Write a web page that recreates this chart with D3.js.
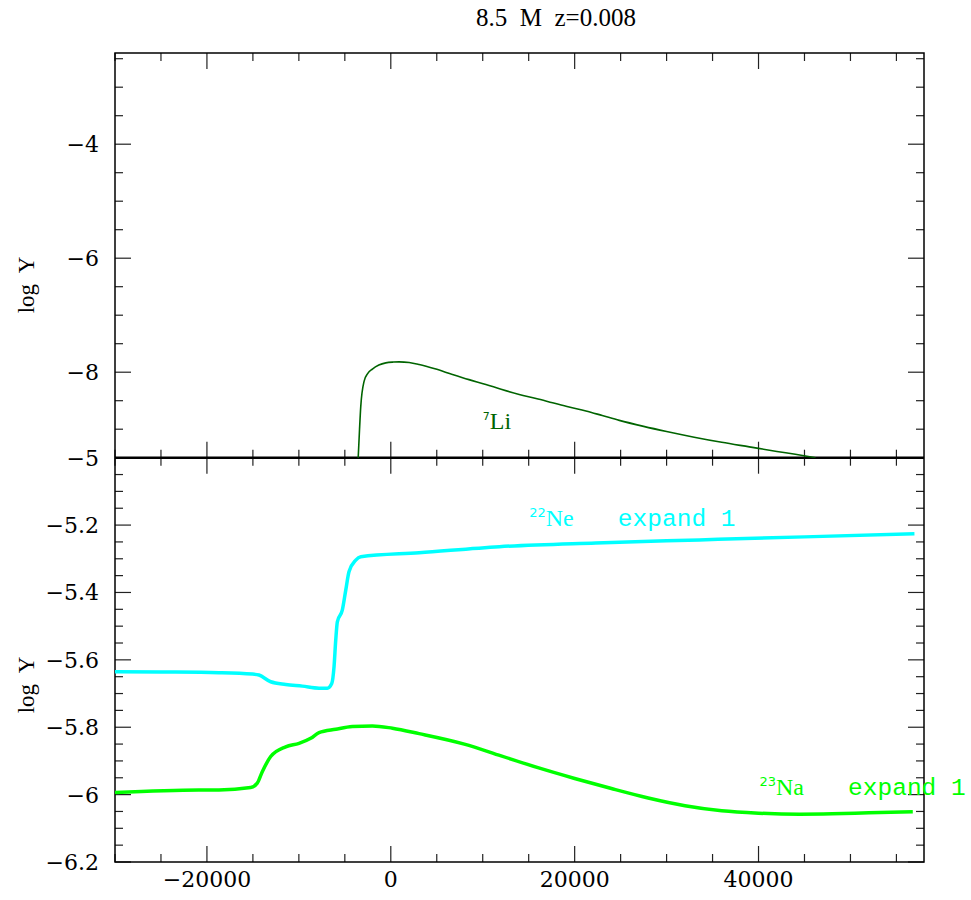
<!DOCTYPE html>
<html>
<head>
<meta charset="utf-8">
<script src="https://cdn.jsdelivr.net/npm/d3@7"></script>
<style>
  body { margin: 0; background: #fff; }
  text { white-space: pre; }
</style>
</head>
<body>
<div id="chart"></div>
<script>
// values
const liX = [-3560, -3400, -3266, -2907, -2500, -2003, -1300, -544, 300, 904, 2000, 3081, 4800, 6706, 8500, 10343,
  12000, 13969, 15800, 17594, 19400, 21230, 23000, 24855, 27500, 30000, 33000, 36000, 39000, 42000, 44000, 46200];
const liY = [-9.55, -9.0, -8.6, -8.16, -8.02, -7.945, -7.875, -7.836, -7.822, -7.818, -7.83, -7.865, -7.94, -8.04, -8.13, -8.215,
  -8.30, -8.39, -8.46, -8.535, -8.61, -8.68, -8.76, -8.845, -8.95, -9.04, -9.14, -9.23, -9.31, -9.39, -9.44, -9.5];

const neX = [-30000, -25000, -18690, -15068, -14338, -13064, -11431, -9624, -7806, -6903, -6423, -6173, -5988, -5814,
  -5269, -4899, -4540, -3810, -3266, 3081, 11800, 22300, 33570, 45000, 56960];
const neY = [-5.635, -5.636, -5.638, -5.642, -5.645, -5.665, -5.673, -5.678, -5.684, -5.684, -5.670, -5.620, -5.541, -5.487,
  -5.452, -5.393, -5.338, -5.304, -5.294, -5.282, -5.264, -5.253, -5.244, -5.235, -5.226];

const naX = [-30000, -20870, -18690, -15242, -14524, -13980, -13064, -11431, -9983, -8710, -7806, -5988, -4180, -2003,
  174, 3081, 8000, 12000, 16000, 20000, 24000, 28000, 32000, 36000, 40000, 44460, 48000, 52000, 56780];
const naY = [-5.994, -5.986, -5.986, -5.979, -5.966, -5.932, -5.887, -5.858, -5.848, -5.833, -5.816, -5.806, -5.798, -5.796,
  -5.803, -5.819, -5.85, -5.885, -5.92, -5.952, -5.982, -6.01, -6.033, -6.048, -6.055, -6.058, -6.057, -6.054, -6.051];

const xMajor = [-20000, 0, 20000, 40000];
const topMajor = [-8, -6, -4];
const botMajor = [-6.2, -6, -5.8, -5.6, -5.4, -5.2, -5];

const width = 971, height = 900;
const frame = {left: 115, right: 924, top: 53, mid: 457.7, bottom: 862};

const x = d3.scaleLinear().domain([-30000, 58000]).range([frame.left, frame.right]);
const yTop = d3.scaleLinear().domain([-9.5, -2.4]).range([frame.mid, frame.top]);
const yBot = d3.scaleLinear().domain([-6.2, -5]).range([frame.bottom, frame.mid]);

const svg = d3.select('#chart').append('svg')
  .attr('width', width)
  .attr('height', height);

const tickFont = 'DejaVu Serif';
const fmt = d => (d < 0 ? '\u2212' : '') + d3.format('')(Math.abs(d));

// clip paths for each panel
const defs = svg.append('defs');
defs.append('clipPath').attr('id', 'clipTop').append('rect')
  .attr('x', frame.left).attr('y', frame.top)
  .attr('width', frame.right - frame.left).attr('height', frame.mid - frame.top);
defs.append('clipPath').attr('id', 'clipBot').append('rect')
  .attr('x', frame.left).attr('y', frame.mid)
  .attr('width', frame.right - frame.left).attr('height', frame.bottom - frame.mid);

// x ticks along top, middle and bottom
const xTicks = d3.range(-30000, 58001, 5000);
const tickG = svg.append('g').attr('stroke', '#222').attr('stroke-width', 1.2);
xTicks.forEach(v => {
  const len = xMajor.includes(v) ? 16 : 8;
  const px = x(v);
  tickG.append('line').attr('x1', px).attr('x2', px).attr('y1', frame.top).attr('y2', frame.top + len);
  tickG.append('line').attr('x1', px).attr('x2', px).attr('y1', frame.mid - len).attr('y2', frame.mid);
  tickG.append('line').attr('x1', px).attr('x2', px).attr('y1', frame.mid).attr('y2', frame.mid + len);
  tickG.append('line').attr('x1', px).attr('x2', px).attr('y1', frame.bottom - len).attr('y2', frame.bottom);
});

// y ticks, top panel
d3.range(-9.5, -2.4, 0.5).forEach(v => {
  const len = topMajor.includes(v) ? 16 : 8;
  const py = yTop(v);
  tickG.append('line').attr('x1', frame.left).attr('x2', frame.left + len).attr('y1', py).attr('y2', py);
  tickG.append('line').attr('x1', frame.right - len).attr('x2', frame.right).attr('y1', py).attr('y2', py);
});

// y ticks, bottom panel
d3.range(0, 25).map(i => +(-6.2 + i * 0.05).toFixed(2)).forEach(v => {
  const len = botMajor.some(m => Math.abs(m - v) < 1e-6) ? 16 : 8;
  const py = yBot(v);
  tickG.append('line').attr('x1', frame.left).attr('x2', frame.left + len).attr('y1', py).attr('y2', py);
  tickG.append('line').attr('x1', frame.right - len).attr('x2', frame.right).attr('y1', py).attr('y2', py);
});

// frame
svg.append('rect')
  .attr('x', frame.left).attr('y', frame.top)
  .attr('width', frame.right - frame.left).attr('height', frame.bottom - frame.top)
  .attr('fill', 'none').attr('stroke', '#000').attr('stroke-width', 1.5);
svg.append('line')
  .attr('x1', frame.left).attr('x2', frame.right)
  .attr('y1', frame.mid).attr('y2', frame.mid)
  .attr('stroke', '#000').attr('stroke-width', 2.5);

// tick labels
svg.selectAll('.xlab').data(xMajor).enter().append('text')
  .attr('x', d => x(d)).attr('y', 887)
  .attr('text-anchor', 'middle')
  .style('font-family', tickFont).style('font-size', '22px')
  .text(fmt);

svg.selectAll('.ytop').data(topMajor).enter().append('text')
  .attr('x', frame.left - 16).attr('y', d => yTop(d))
  .attr('dy', '0.36em')
  .attr('text-anchor', 'end')
  .style('font-family', tickFont).style('font-size', '22px')
  .text(fmt);

svg.selectAll('.ybot').data(botMajor).enter().append('text')
  .attr('x', frame.left - 16).attr('y', d => yBot(d))
  .attr('dy', '0.36em')
  .attr('text-anchor', 'end')
  .style('font-family', tickFont).style('font-size', '22px')
  .text(fmt);

// axis titles
[285, 685].forEach(cy => {
  svg.append('text')
    .attr('transform', `translate(34,${cy}) rotate(-90)`)
    .attr('text-anchor', 'middle')
    .style('font-family', 'Liberation Serif').style('font-size', '23px')
    .text('log  Y');
});

svg.append('text')
  .attr('x', 556).attr('y', 26)
  .attr('text-anchor', 'middle')
  .style('font-family', 'Liberation Serif').style('font-size', '25px')
  .text('8.5  M  z=0.008');

// curves
const line = (ys) => d3.line()
  .x(d => x(d[0]))
  .y(d => ys(d[1]))
  .curve(d3.curveMonotoneX);

svg.append('path')
  .datum(d3.zip(liX, liY))
  .attr('clip-path', 'url(#clipTop)')
  .attr('fill', 'none').attr('stroke', '#006400').attr('stroke-width', 1.6)
  .attr('d', line(yTop));

svg.append('path')
  .datum(d3.zip(neX, neY))
  .attr('clip-path', 'url(#clipBot)')
  .attr('fill', 'none').attr('stroke', '#00ffff').attr('stroke-width', 3.5)
  .attr('d', line(yBot));

svg.append('path')
  .datum(d3.zip(naX, naY))
  .attr('clip-path', 'url(#clipBot)')
  .attr('fill', 'none').attr('stroke', '#00ff00').attr('stroke-width', 3.5)
  .attr('d', line(yBot));

// curve labels
function isoLabel(px, py, mass, el, extra, color, supSize) {
  const t = svg.append('text').attr('x', px).attr('y', py).attr('fill', color);
  t.append('tspan').attr('dy', -9)
    .style('font-family', 'DejaVu Sans').style('font-size', supSize + 'px')
    .text(mass);
  t.append('tspan').attr('dy', 9)
    .style('font-family', 'Liberation Serif').style('font-size', '24px')
    .text(el);
  if (extra) {
    t.append('tspan')
      .style('font-family', 'Liberation Mono').style('font-size', '24.5px')
      .text(extra);
  }
}

isoLabel(x(10000), yTop(-8.99), '7', 'Li', null, '#006400', 11);
isoLabel(x(15060), yBot(-5.202), '22', 'Ne', '   expand 1', '#00ffff', 13);
isoLabel(x(40100), yBot(-6.001), '23', 'Na', '   expand 1', '#00ff00', 13);
</script>
</body>
</html>
